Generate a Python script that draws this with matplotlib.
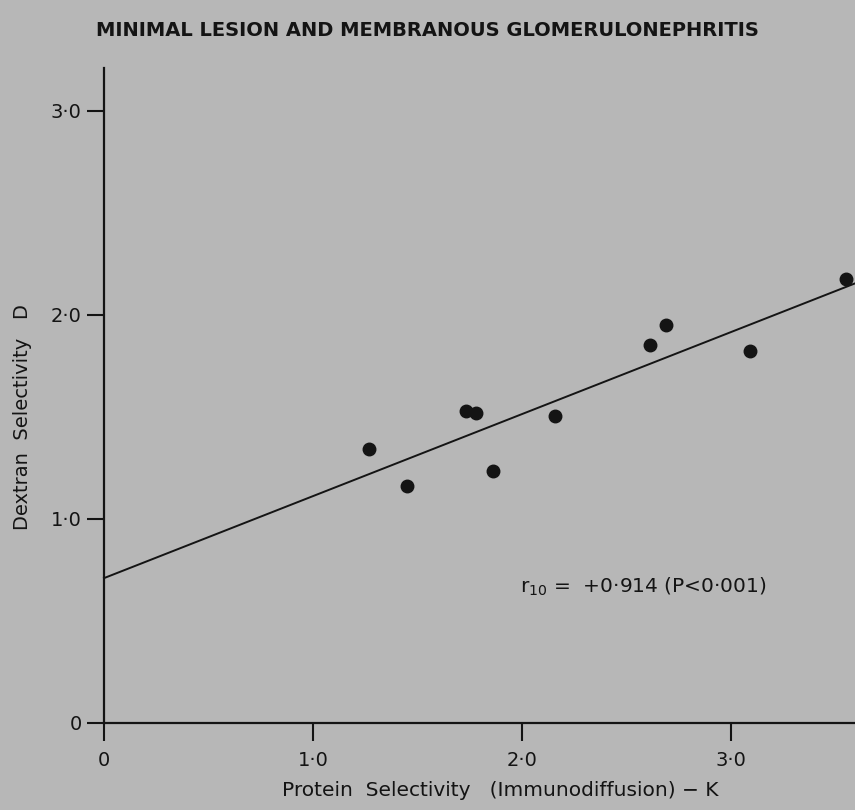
import matplotlib
matplotlib.use("Agg")
import matplotlib.pyplot as plt
import numpy as np

# Protein selectivity (K) vs dextran selectivity (D) for each patient
protein_k = [1.27, 1.45, 1.73, 1.78, 1.86, 2.16, 2.61, 2.69, 3.09, 3.55]
dextran_d = [1.343, 1.163, 1.528, 1.518, 1.237, 1.506, 1.851, 1.951, 1.822, 2.178]

# Regression line D = a + b*K
intercept = 0.71
slope = 0.402

x_ticks = [0, 1.0, 2.0, 3.0]
x_tick_labels = ["0", "1\u00b70", "2\u00b70", "3\u00b70"]
y_ticks = [0, 1.0, 2.0, 3.0]
y_tick_labels = ["0", "1\u00b70", "2\u00b70", "3\u00b70"]

title = "MINIMAL LESION AND MEMBRANOUS GLOMERULONEPHRITIS"
x_label = "Protein  Selectivity   (Immunodiffusion) \u2212 K"
y_label = "Dextran  Selectivity   D"
stat_text = "$\\mathregular{r_{10}}$ =  +0\u00b7914 (P<0\u00b7001)"

bg = "#b7b7b7"
ink = "#141414"

fig = plt.figure(figsize=(8.55, 8.10), dpi=100, facecolor=bg)
ax = fig.add_axes([104 / 855, 87 / 810, 1 - 104 / 855, 655 / 810])
ax.set_facecolor(bg)

xmax = 3.593
ax.set_xlim(0, xmax)
ax.set_ylim(0, 3.21)

xs = np.array([0, xmax])
ax.plot(xs, intercept + slope * xs, color=ink, lw=1.4, clip_on=False)
ax.plot(protein_k, dextran_d, "o", color=ink, ms=9, clip_on=False)

for side in ("top", "right"):
    ax.spines[side].set_visible(False)
for side in ("left", "bottom"):
    ax.spines[side].set_linewidth(1.6)
    ax.spines[side].set_color(ink)

ax.set_xticks(x_ticks)
ax.set_xticklabels(x_tick_labels)
ax.set_yticks(y_ticks)
ax.set_yticklabels(y_tick_labels)
ax.tick_params(axis="both", direction="out", width=1.5,
               color=ink, labelcolor=ink, labelsize=14)
ax.tick_params(axis="x", length=13, pad=7)
ax.tick_params(axis="y", length=12, pad=4)

ax.set_xlabel(x_label, fontsize=14.5, color=ink)
ax.xaxis.set_label_coords(0.527, -0.088)
ax.set_ylabel(y_label, fontsize=14, color=ink)
ax.yaxis.set_label_coords(-0.096, 0.467)

fig.text(0.5, 1 - 31 / 810, title, ha="center", va="center",
         fontsize=14, fontweight="bold", color=ink)

ax.text(1.99, 0.665, stat_text, fontsize=14.5, color=ink, ha="left", va="center")

fig.savefig("out.png", dpi=100, facecolor=bg)
